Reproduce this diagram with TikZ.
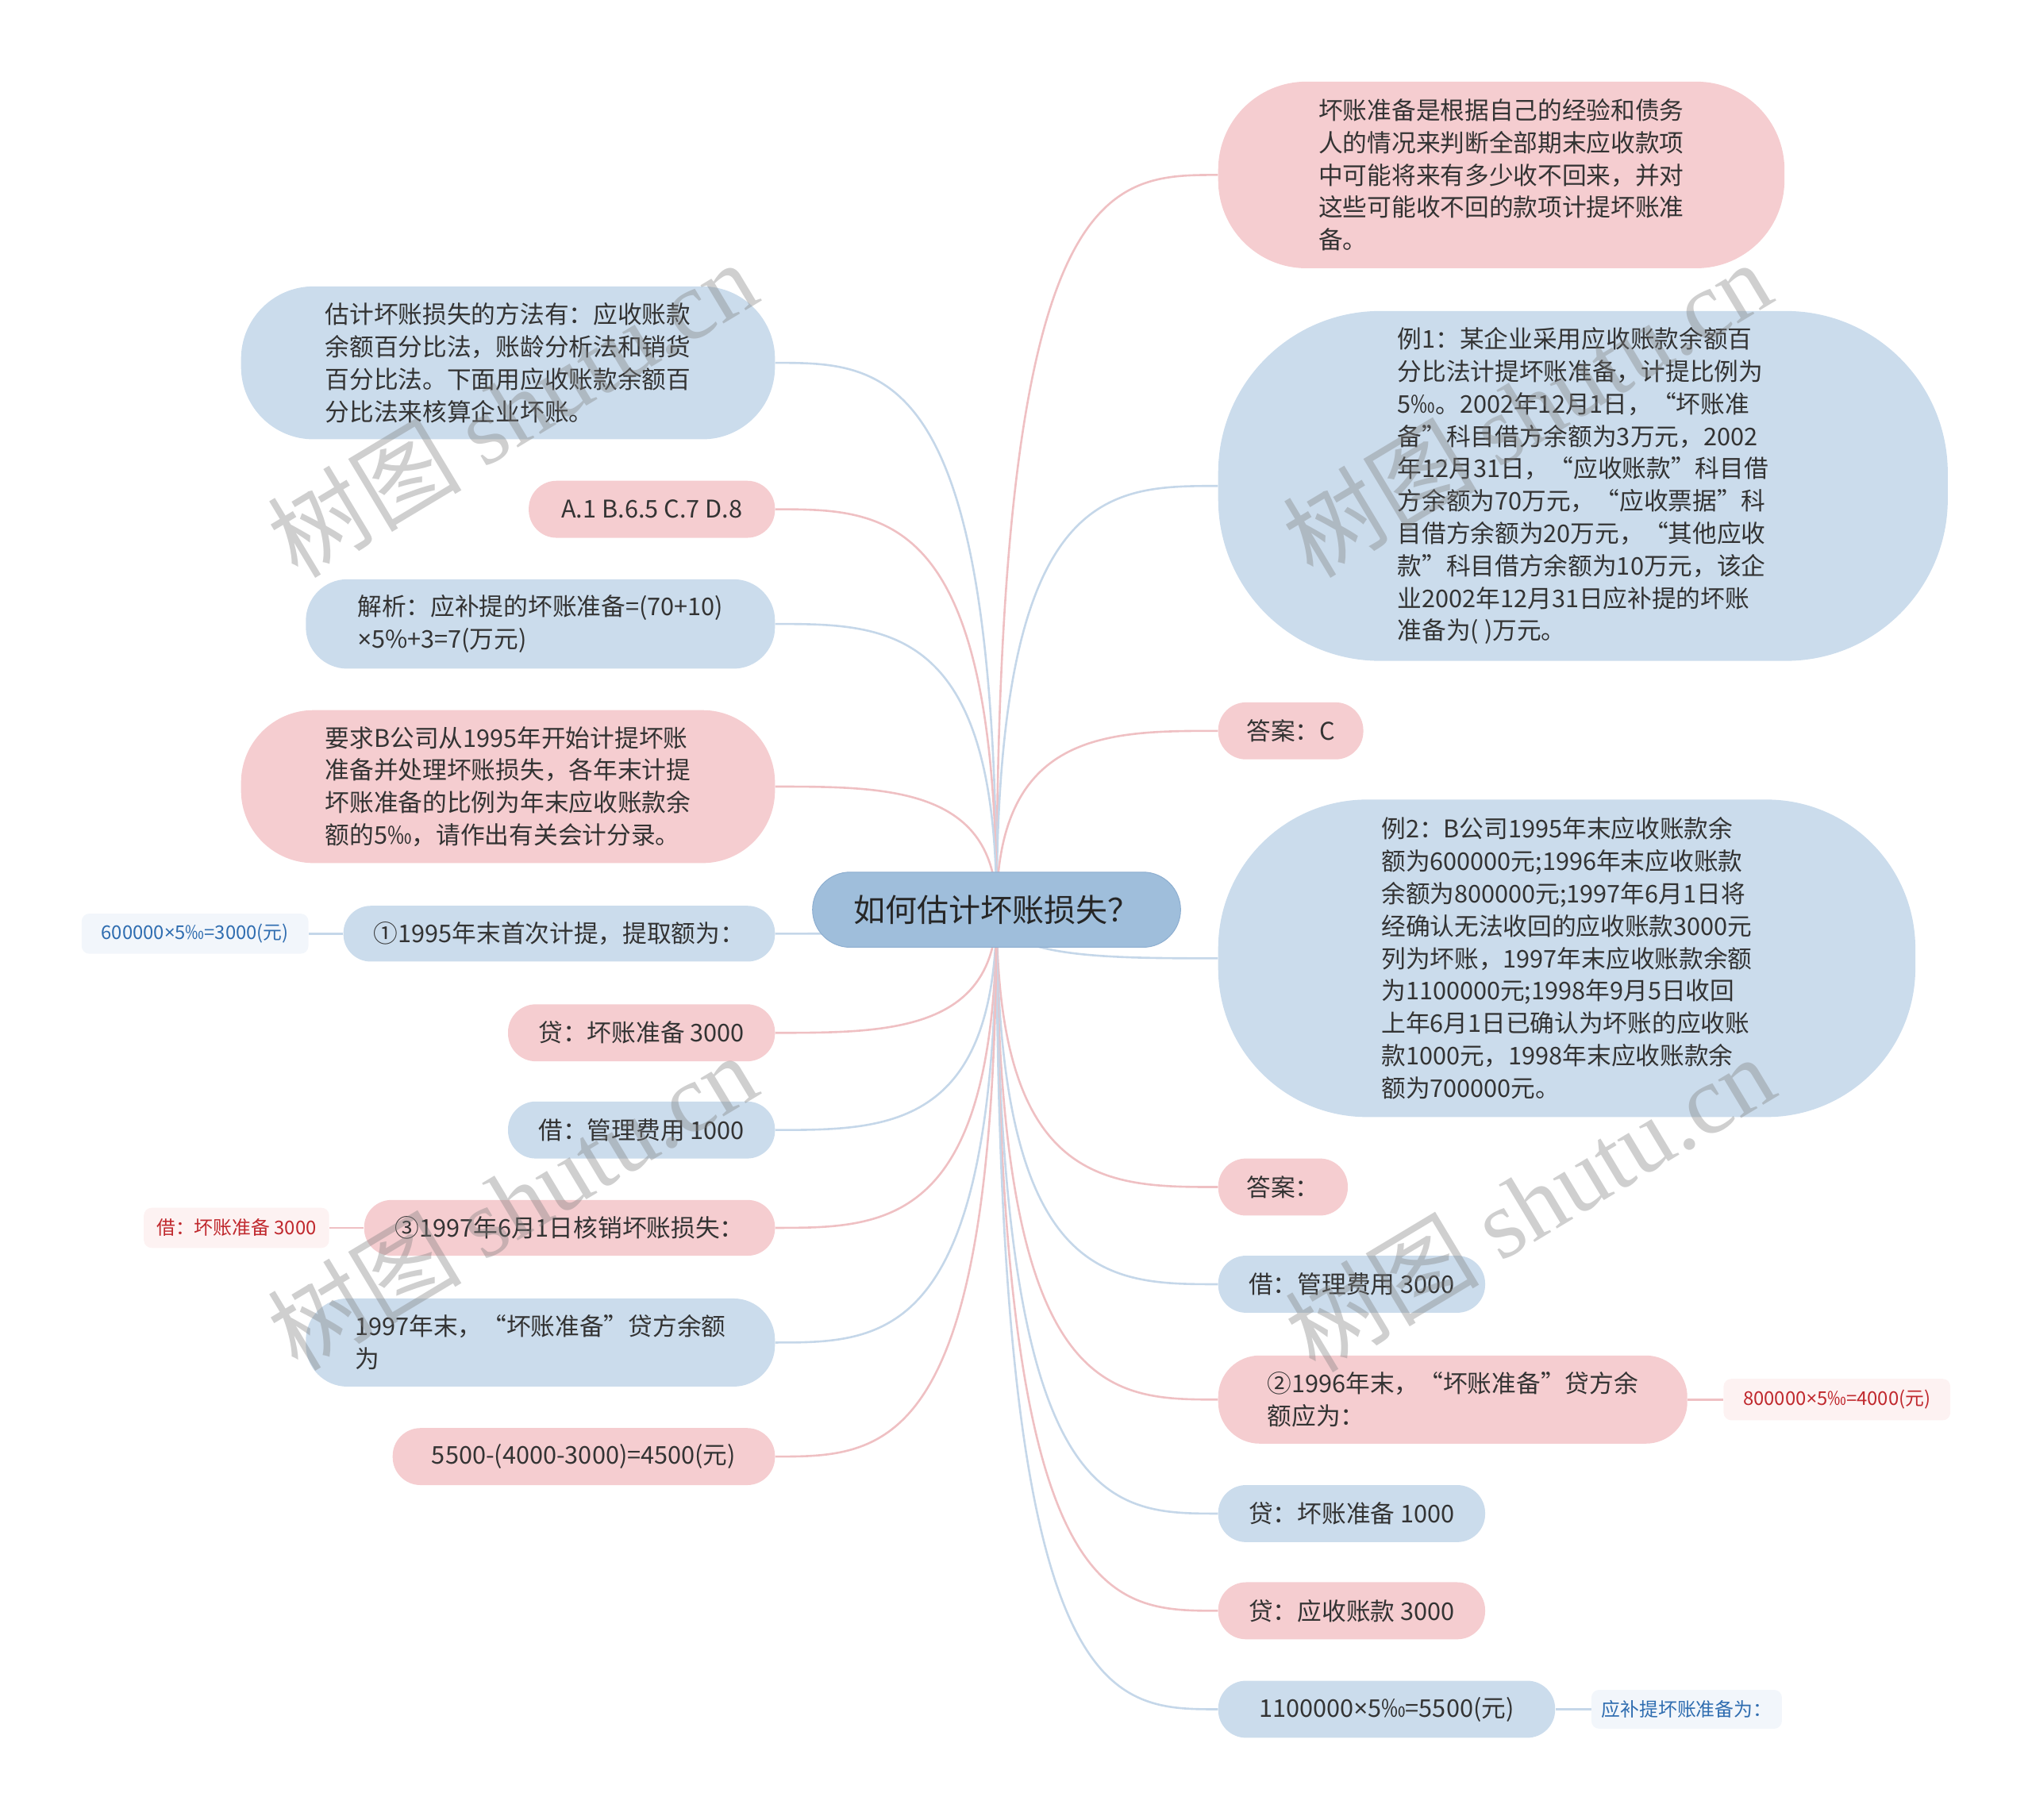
\documentclass[tikz,border=0pt]{standalone}
\usepackage{fontspec}
\setmainfont{Noto Sans CJK SC}
\newfontfamily\wmfont{Liberation Serif}
\newfontfamily\latf{Noto Sans}
\newcommand\tms{{\latf ×}}
\usetikzlibrary{calc}
\definecolor{pkfill}{HTML}{F5CDD0}
\definecolor{blfill}{HTML}{CBDCEC}
\definecolor{rtfill}{HTML}{9FBEDB}
\definecolor{rtline}{HTML}{8DAED0}
\definecolor{pkline}{HTML}{EFC0C3}
\definecolor{blline}{HTML}{C5D7E9}
\definecolor{pklab}{HTML}{FDF2F2}
\definecolor{bllab}{HTML}{F2F6FB}
\definecolor{pktext}{HTML}{C0282D}
\definecolor{bltext}{HTML}{2F6DB0}
\definecolor{maintext}{HTML}{333333}
\pgfdeclarelayer{bg}
\pgfsetlayers{bg,main}
\tikzset{
  box/.style={rectangle, inner sep=0pt, align=left, text=maintext, font=\fontsize{18.8pt}{25pt}\selectfont},
  pk/.style={box, fill=pkfill},
  bl/.style={box, fill=blfill},
  lab/.style={rectangle, inner sep=0pt, rounded corners=6pt, font=\fontsize{14.6pt}{18pt}\selectfont},
  pklabel/.style={lab, fill=pklab, text=pktext},
  bllabel/.style={lab, fill=bllab, text=bltext},
  pkc/.style={draw=pkline, line width=1.6pt},
  blc/.style={draw=blline, line width=1.6pt},
  wm/.style={rotate=31, text=gray, opacity=0.38, font=\fontsize{75pt}{80pt}\selectfont},
}
\newcommand\lnk[3]{\draw[#1] (root.center) .. controls (root.center |- #2.#3) and ($(root.center |- #2.#3)!0.5!(#2.#3)$) .. (#2.#3);}
\begin{document}
\begin{tikzpicture}[x=1pt,y=-1pt]
\useasboundingbox (0,0) rectangle (1568,1404);

% root
\node[rectangle, fill=rtfill, draw=rtline, line width=0.6pt, rounded corners=29pt,
  minimum width=284pt, minimum height=58pt, inner sep=0pt,
  font=\fontsize{24.5pt}{30pt}\selectfont, text=black!85] (root) at (769,702) {如何估计坏账损失？};

% right side
\node[pk, minimum width=437pt, minimum height=144pt, rounded corners=68pt] (r1) at (1158.5,135)
  {坏账准备是根据自己的经验和债务\\人的情况来判断全部期末应收款项\\中可能将来有多少收不回来，并对\\这些可能收不回的款项计提坏账准\\备。};
\node[bl, minimum width=563pt, minimum height=270pt, rounded corners=125pt] (r2) at (1221.5,375)
  {例1：某企业采用应收账款余额百\\分比法计提坏账准备，计提比例为\\5‰。2002年12月1日，“坏账准\\备”科目借方余额为3万元，2002\\年12月31日，“应收账款”科目借\\方余额为70万元，“应收票据”科\\目借方余额为20万元，“其他应收\\款”科目借方余额为10万元，该企\\业2002年12月31日应补提的坏账\\准备为( )万元。};
\node[pk, minimum width=112pt, minimum height=44pt, rounded corners=21.5pt] (r3) at (996,564) {答案：C};
\node[bl, minimum width=538pt, minimum height=245pt, rounded corners=115pt] (r4) at (1209,739.5)
  {例2：B公司1995年末应收账款余\\额为600000元;1996年末应收账款\\余额为800000元;1997年6月1日将\\经确认无法收回的应收账款3000元\\列为坏账，1997年末应收账款余额\\为1100000元;1998年9月5日收回\\上年6月1日已确认为坏账的应收账\\款1000元，1998年末应收账款余\\额为700000元。};
\node[pk, minimum width=100pt, minimum height=44pt, rounded corners=21.5pt] (r5) at (990,916) {答案：};
\node[bl, minimum width=206pt, minimum height=44pt, rounded corners=21.5pt] (r6) at (1043,991) {借：管理费用 3000};
\node[pk, minimum width=362pt, minimum height=68pt, rounded corners=32pt] (r7) at (1121,1080)
  {②1996年末，“坏账准备”贷方余\\额应为：};
\node[pklabel, minimum width=175pt, minimum height=32pt] (r7c) at (1417.5,1080) {800000\tms5‰=4000(元)};
\node[bl, minimum width=206pt, minimum height=44pt, rounded corners=21.5pt] (r8) at (1043,1168) {贷：坏账准备 1000};
\node[pk, minimum width=206pt, minimum height=44pt, rounded corners=21.5pt] (r9) at (1043,1243) {贷：应收账款 3000};
\node[bl, minimum width=260pt, minimum height=44pt, rounded corners=21.5pt] (r10) at (1070,1319) {1100000\tms5‰=5500(元)};
\node[bllabel, minimum width=147pt, minimum height=30pt] (r10c) at (1301.5,1319) {应补提坏账准备为：};

% left side
\node[bl, minimum width=412pt, minimum height=118pt, rounded corners=56pt] (l1) at (392,280)
  {估计坏账损失的方法有：应收账款\\余额百分比法，账龄分析法和销货\\百分比法。下面用应收账款余额百\\分比法来核算企业坏账。};
\node[pk, minimum width=190pt, minimum height=44pt, rounded corners=21.5pt] (l2) at (503,393) {A.1 B.6.5 C.7 D.8};
\node[bl, minimum width=362pt, minimum height=69pt, rounded corners=32pt] (l3) at (417,481.5)
  {解析：应补提的坏账准备=(70+10)\\\tms5\%+3=7(万元)};
\node[pk, minimum width=412pt, minimum height=118pt, rounded corners=56pt] (l4) at (392,607)
  {要求B公司从1995年开始计提坏账\\准备并处理坏账损失，各年末计提\\坏账准备的比例为年末应收账款余\\额的5‰，请作出有关会计分录。};
\node[bl, minimum width=333pt, minimum height=43pt, rounded corners=21pt] (l5) at (431.5,720.5) {①1995年末首次计提，提取额为：};
\node[bllabel, minimum width=175pt, minimum height=31pt] (l5c) at (150.5,720.5) {600000\tms5‰=3000(元)};
\node[pk, minimum width=206pt, minimum height=44pt, rounded corners=21.5pt] (l6) at (495,797) {贷：坏账准备 3000};
\node[bl, minimum width=206pt, minimum height=44pt, rounded corners=21.5pt] (l7) at (495,872) {借：管理费用 1000};
\node[pk, minimum width=317pt, minimum height=43pt, rounded corners=21pt] (l8) at (439.5,947.5) {③1997年6月1日核销坏账损失：};
\node[pklabel, minimum width=143pt, minimum height=31pt] (l8c) at (182.5,947.5) {借：坏账准备 3000};
\node[bl, minimum width=362pt, minimum height=68pt, rounded corners=32pt] (l9) at (417,1036)
  {1997年末，“坏账准备”贷方余额\\为};
\node[pk, minimum width=295pt, minimum height=44pt, rounded corners=21.5pt] (l10) at (450.5,1124) {5500-(4000-3000)=4500(元)};

% connectors
\begin{pgfonlayer}{bg}
\lnk{pkc}{r1}{west}
\lnk{blc}{r2}{west}
\lnk{pkc}{r3}{west}
\lnk{blc}{r4}{west}
\lnk{pkc}{r5}{west}
\lnk{blc}{r6}{west}
\lnk{pkc}{r7}{west}
\lnk{blc}{r8}{west}
\lnk{pkc}{r9}{west}
\lnk{blc}{r10}{west}
\lnk{blc}{l1}{east}
\lnk{pkc}{l2}{east}
\lnk{blc}{l3}{east}
\lnk{pkc}{l4}{east}
\lnk{blc}{l5}{east}
\lnk{pkc}{l6}{east}
\lnk{blc}{l7}{east}
\lnk{pkc}{l8}{east}
\lnk{blc}{l9}{east}
\lnk{pkc}{l10}{east}
\draw[pkc] (r7.east) -- (r7c.west);
\draw[blc] (r10.east) -- (r10c.west);
\draw[blc] (l5.west) -- (l5c.east);
\draw[pkc] (l8.west) -- (l8c.east);
\end{pgfonlayer}

% watermarks
\node[wm] (wm1) at (395,315) {树图 {\wmfont shutu.cn}};
\node[wm] (wm2) at (395,927) {树图 {\wmfont shutu.cn}};
\node[wm] (wm3) at (1178,315) {树图 {\wmfont shutu.cn}};
\node[wm] (wm4) at (1180,928) {树图 {\wmfont shutu.cn}};
\end{tikzpicture}
\end{document}
